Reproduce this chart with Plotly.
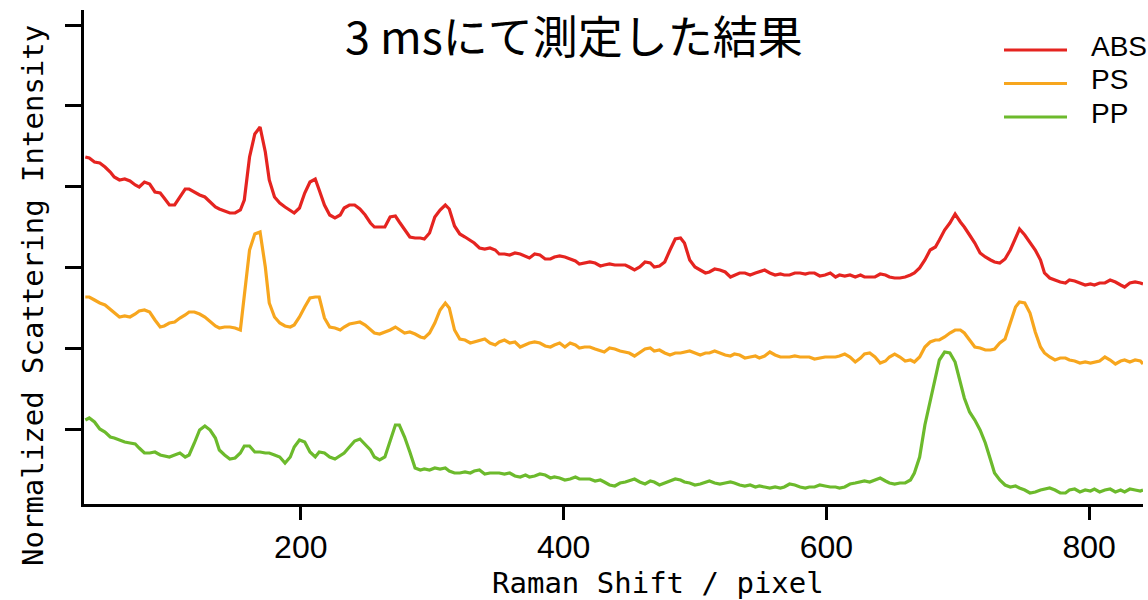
import plotly.graph_objects as go

# Detector pixel index (Raman shift axis)
pixel = [
    36, 39, 43, 47, 51, 55, 58, 62, 66, 70,
    74, 77, 81, 85, 89, 93, 96, 100, 104, 108,
    112, 115, 119, 123, 127, 131, 135, 138, 142, 146,
    150, 154, 157, 161, 165, 169, 173, 176, 180, 184,
    188, 192, 195, 199, 203, 207, 211, 214, 218, 222,
    226, 230, 233, 237, 241, 245, 249, 253, 256, 260,
    264, 268, 272, 275, 279, 283, 287, 291, 294, 298,
    302, 306, 310, 313, 317, 321, 325, 329, 332, 336,
    340, 344, 348, 351, 355, 359, 363, 367, 371, 374,
    378, 382, 386, 390, 393, 397, 401, 405, 409, 412,
    416, 420, 424, 428, 431, 435, 439, 443, 447, 450,
    454, 458, 462, 466, 469, 473, 477, 481, 485, 489,
    492, 496, 500, 504, 508, 511, 515, 519, 523, 527,
    530, 534, 538, 542, 546, 549, 553, 557, 561, 565,
    568, 572, 576, 580, 584, 587, 591, 595, 599, 603,
    607, 610, 614, 618, 622, 626, 629, 633, 637, 641,
    645, 648, 652, 656, 660, 664, 667, 671, 675, 679,
    683, 686, 690, 694, 698, 702, 705, 709, 713, 717,
    721, 725, 728, 732, 736, 740, 744, 747, 751, 755,
    759, 763, 766, 770, 774, 778, 782, 785, 789, 793,
    797, 801, 804, 808, 812, 816, 820, 824, 827, 831,
    835, 839, 841,
]

# Normalized scattering intensity (spectra stacked with offsets)
abs_intensity = [
    3.47, 3.46, 3.42, 3.41, 3.37, 3.32, 3.27, 3.24, 3.25, 3.23,
    3.19, 3.17, 3.22, 3.20, 3.12, 3.11, 3.06, 2.99, 2.99, 3.07,
    3.15, 3.15, 3.12, 3.09, 3.07, 3.02, 2.97, 2.95, 2.93, 2.91,
    2.91, 2.94, 3.04, 3.47, 3.70, 3.77, 3.52, 3.24, 3.07, 3.01,
    2.97, 2.94, 2.91, 2.96, 3.11, 3.22, 3.25, 3.14, 2.99, 2.89,
    2.86, 2.89, 2.96, 2.99, 2.99, 2.95, 2.89, 2.81, 2.77, 2.77,
    2.77, 2.87, 2.88, 2.82, 2.74, 2.67, 2.66, 2.66, 2.65, 2.71,
    2.87, 2.94, 2.99, 2.95, 2.78, 2.70, 2.67, 2.64, 2.61, 2.56,
    2.55, 2.56, 2.54, 2.50, 2.50, 2.49, 2.51, 2.50, 2.48, 2.46,
    2.50, 2.49, 2.45, 2.45, 2.47, 2.48, 2.47, 2.45, 2.43, 2.40,
    2.41, 2.42, 2.41, 2.38, 2.39, 2.40, 2.39, 2.39, 2.39, 2.37,
    2.34, 2.37, 2.42, 2.41, 2.37, 2.38, 2.42, 2.54, 2.65, 2.66,
    2.61, 2.44, 2.37, 2.34, 2.31, 2.32, 2.35, 2.34, 2.32, 2.27,
    2.29, 2.31, 2.31, 2.29, 2.31, 2.32, 2.34, 2.31, 2.29, 2.30,
    2.29, 2.29, 2.31, 2.31, 2.30, 2.31, 2.31, 2.28, 2.29, 2.31,
    2.27, 2.29, 2.28, 2.29, 2.27, 2.29, 2.27, 2.27, 2.27, 2.30,
    2.29, 2.27, 2.26, 2.26, 2.27, 2.29, 2.31, 2.36, 2.44, 2.54,
    2.57, 2.64, 2.74, 2.81, 2.90, 2.82, 2.77, 2.69, 2.61, 2.51,
    2.47, 2.44, 2.42, 2.41, 2.45, 2.54, 2.67, 2.75, 2.69, 2.62,
    2.54, 2.44, 2.31, 2.26, 2.24, 2.22, 2.21, 2.24, 2.23, 2.21,
    2.19, 2.20, 2.19, 2.21, 2.21, 2.24, 2.22, 2.19, 2.17, 2.21,
    2.22, 2.21, 2.20,
]

ps_intensity = [
    2.07, 2.07, 2.04, 2.01, 1.99, 1.95, 1.92, 1.87, 1.88, 1.87,
    1.90, 1.93, 1.94, 1.92, 1.84, 1.77, 1.78, 1.81, 1.82, 1.86,
    1.89, 1.92, 1.92, 1.90, 1.87, 1.82, 1.78, 1.76, 1.77, 1.77,
    1.76, 1.74, 2.09, 2.54, 2.70, 2.72, 2.37, 2.01, 1.87, 1.81,
    1.78, 1.77, 1.79, 1.87, 1.97, 2.06, 2.07, 2.07, 1.86, 1.77,
    1.76, 1.74, 1.77, 1.80, 1.81, 1.82, 1.79, 1.74, 1.71, 1.70,
    1.72, 1.74, 1.77, 1.74, 1.71, 1.72, 1.70, 1.67, 1.66, 1.71,
    1.81, 1.94, 2.01, 1.96, 1.74, 1.65, 1.64, 1.61, 1.62, 1.63,
    1.65, 1.61, 1.59, 1.62, 1.64, 1.61, 1.62, 1.57, 1.59, 1.61,
    1.62, 1.61, 1.58, 1.57, 1.59, 1.61, 1.57, 1.61, 1.59, 1.56,
    1.57, 1.57, 1.55, 1.53, 1.52, 1.56, 1.55, 1.53, 1.52, 1.51,
    1.48, 1.52, 1.55, 1.56, 1.53, 1.54, 1.51, 1.49, 1.51, 1.51,
    1.52, 1.53, 1.51, 1.49, 1.51, 1.51, 1.53, 1.51, 1.49, 1.48,
    1.50, 1.49, 1.46, 1.47, 1.48, 1.46, 1.48, 1.52, 1.49, 1.47,
    1.47, 1.47, 1.48, 1.47, 1.47, 1.47, 1.45, 1.46, 1.47, 1.47,
    1.47, 1.48, 1.50, 1.47, 1.42, 1.46, 1.50, 1.51, 1.47, 1.41,
    1.43, 1.47, 1.50, 1.47, 1.43, 1.44, 1.42, 1.47, 1.57, 1.62,
    1.64, 1.64, 1.67, 1.71, 1.74, 1.74, 1.71, 1.64, 1.57, 1.56,
    1.54, 1.54, 1.55, 1.61, 1.65, 1.81, 1.97, 2.02, 2.01, 1.91,
    1.72, 1.57, 1.51, 1.47, 1.44, 1.46, 1.46, 1.44, 1.43, 1.41,
    1.42, 1.41, 1.42, 1.43, 1.47, 1.44, 1.40, 1.43, 1.44, 1.42,
    1.44, 1.43, 1.40,
]

pp_intensity = [
    0.84, 0.86, 0.82, 0.75, 0.72, 0.67, 0.66, 0.64, 0.62, 0.61,
    0.60, 0.56, 0.51, 0.51, 0.52, 0.49, 0.48, 0.47, 0.49, 0.51,
    0.47, 0.49, 0.61, 0.74, 0.78, 0.74, 0.66, 0.54, 0.49, 0.45,
    0.46, 0.51, 0.58, 0.58, 0.52, 0.52, 0.51, 0.51, 0.49, 0.47,
    0.41, 0.47, 0.57, 0.64, 0.62, 0.52, 0.47, 0.52, 0.51, 0.47,
    0.45, 0.49, 0.51, 0.57, 0.63, 0.65, 0.60, 0.54, 0.47, 0.44,
    0.47, 0.64, 0.79, 0.79, 0.67, 0.52, 0.36, 0.34, 0.35, 0.34,
    0.36, 0.35, 0.36, 0.33, 0.31, 0.31, 0.32, 0.31, 0.33, 0.34,
    0.30, 0.31, 0.31, 0.31, 0.30, 0.31, 0.28, 0.27, 0.29, 0.27,
    0.28, 0.30, 0.29, 0.26, 0.27, 0.26, 0.24, 0.25, 0.27, 0.25,
    0.25, 0.25, 0.23, 0.24, 0.22, 0.19, 0.18, 0.21, 0.22, 0.23,
    0.25, 0.22, 0.20, 0.23, 0.22, 0.19, 0.21, 0.23, 0.25, 0.24,
    0.22, 0.21, 0.19, 0.20, 0.22, 0.23, 0.21, 0.20, 0.21, 0.22,
    0.21, 0.19, 0.18, 0.19, 0.17, 0.18, 0.17, 0.16, 0.17, 0.16,
    0.17, 0.20, 0.19, 0.17, 0.16, 0.17, 0.17, 0.19, 0.18, 0.17,
    0.17, 0.16, 0.17, 0.20, 0.21, 0.22, 0.23, 0.22, 0.24, 0.26,
    0.23, 0.21, 0.20, 0.21, 0.21, 0.24, 0.31, 0.47, 0.79, 1.04,
    1.29, 1.44, 1.52, 1.51, 1.42, 1.23, 1.06, 0.92, 0.84, 0.74,
    0.61, 0.44, 0.31, 0.24, 0.19, 0.17, 0.18, 0.16, 0.14, 0.11,
    0.12, 0.14, 0.15, 0.16, 0.14, 0.11, 0.11, 0.14, 0.15, 0.12,
    0.14, 0.13, 0.15, 0.12, 0.14, 0.15, 0.12, 0.14, 0.12, 0.15,
    0.14, 0.13, 0.14,
]

series_names = ["ABS", "PS", "PP"]
series_values = [abs_intensity, ps_intensity, pp_intensity]
series_colors = ["#e52420", "#f7a61e", "#6cba2c"]

x_tick_values = [200, 400, 600, 800]
chart_title = "3 msにて測定した結果"
x_title = "Raman Shift / pixel"
y_title = "Normalized Scattering Intensity"

# ---- page / plot-area geometry (pixels) ----
W, H = 1148, 600
M_L, M_R, M_T, M_B = 84, 5, 10, 96
PW = W - M_L - M_R
PH = H - M_T - M_B

def px_x(p):
    return (p - M_L) / PW

def px_y(p):
    return (H - M_B - p) / PH

SANS = "Liberation Sans, Arial, sans-serif"
MONO = "DejaVu Sans Mono, Liberation Mono, monospace"

fig = go.Figure()
for name, vals, color in zip(series_names, series_values, series_colors):
    fig.add_trace(go.Scatter(
        x=pixel, y=vals, mode="lines", name=name,
        line=dict(color=color, width=3.2),
        showlegend=False,
    ))

axis_common = dict(
    showline=True, linecolor="black", linewidth=3,
    ticks="outside", tickcolor="black", tickwidth=3,
    showgrid=False, zeroline=False, mirror=False,
)

fig.update_xaxes(
    range=[35, 841], tickvals=x_tick_values, ticklen=13,
    tickfont=dict(family=SANS, size=32, color="black"),
    **axis_common,
)
fig.update_yaxes(
    range=[0, 4.94], tick0=0.75, dtick=0.808, ticklen=16,
    showticklabels=False,
    **axis_common,
)

annotations = [
    # chart title, sitting over the top of the plot area
    dict(text=chart_title, xref="paper", yref="paper",
         x=px_x(574), y=px_y(35), xanchor="center", yanchor="middle",
         showarrow=False,
         font=dict(family="Noto Sans CJK JP", size=45, color="black")),
    dict(text=y_title, textangle=-90, xref="paper", yref="paper",
         x=px_x(33), y=px_y(296), xanchor="center", yanchor="middle",
         showarrow=False, font=dict(family=MONO, size=29, color="black")),
    dict(text=x_title, xref="paper", yref="paper",
         x=px_x(658), y=px_y(583), xanchor="center", yanchor="middle",
         showarrow=False, font=dict(family=MONO, size=29, color="black")),
]

# legend: coloured line swatches with labels in the upper right
shapes = []
legend_rows = [50, 83.5, 117]
for name, color, row in zip(series_names, series_colors, legend_rows):
    shapes.append(dict(type="line", xref="paper", yref="paper",
                       x0=px_x(1004), x1=px_x(1067), y0=px_y(row), y1=px_y(row),
                       line=dict(color=color, width=3)))
    annotations.append(dict(text=name, xref="paper", yref="paper",
                            x=px_x(1089), y=px_y(row - 4),
                            xanchor="left", yanchor="middle", showarrow=False,
                            font=dict(family=SANS, size=28, color="black")))

fig.update_layout(
    width=W, height=H,
    margin=dict(l=M_L, r=M_R, t=M_T, b=M_B),
    paper_bgcolor="white", plot_bgcolor="white",
    annotations=annotations,
    shapes=shapes,
    showlegend=False,
)

fig.write_html("out.html")
